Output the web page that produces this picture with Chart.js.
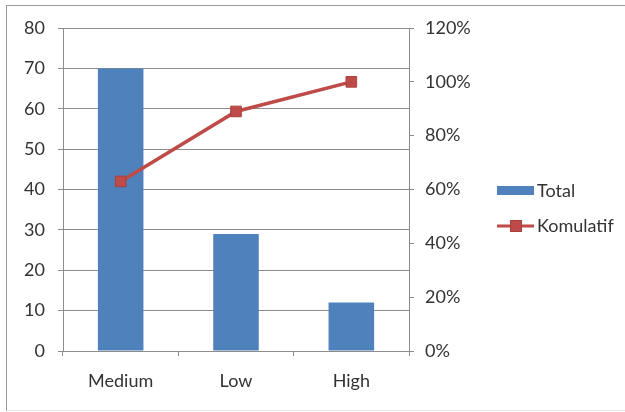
<!DOCTYPE html>
<html>
<head>
<meta charset="utf-8">
<script src="https://cdn.jsdelivr.net/npm/chart.js@4"></script>
<style>
  html, body { margin: 0; padding: 0; background: #fff; }
  #wrap { position: relative; width: 625px; height: 412px; overflow: hidden; }
  #frame { position: absolute; left: 6px; top: 5px; width: 660px; height: 406px;
           border: 1px solid #9a9a9a; border-bottom-color: #e4e4e4; box-sizing: border-box; }
  canvas { position: absolute; left: 0; top: 0; }
</style>
</head>
<body>
<div id="wrap">
  <div id="frame"></div>
  <canvas id="c" width="625" height="412"></canvas>
</div>
<script>
// Pareto data: count per category and cumulative share
const categories = ['Medium', 'Low', 'High'];
const totals = [70, 29, 12];
const cumulative = [0.63, 0.89, 1.00];
const leftTicks = [0, 10, 20, 30, 40, 50, 60, 70, 80];
const rightTicks = [0, 0.2, 0.4, 0.6, 0.8, 1.0, 1.2];

const FONT = 'Lato, Calibri, sans-serif';
const TEXT = '#333333';
const GRID = '#8c8c8c';
const BLUE = '#4F81BD';
const RED = '#BE4B48';
const RED_EDGE = '#A8413E';

// Legend drawn to the right of the plot area
const sideLegend = {
  id: 'sideLegend',
  afterDraw(chart) {
    const ctx = chart.ctx;
    const x0 = 497, x1 = 534;
    const ds = chart.data.datasets;
    ctx.save();
    ctx.font = '18px ' + FONT;
    ctx.textBaseline = 'middle';
    ctx.textAlign = 'left';
    // bar entry
    ctx.fillStyle = ds[0].backgroundColor;
    ctx.fillRect(x0, 186, x1 - x0, 9);
    ctx.fillStyle = TEXT;
    ctx.fillText(ds[0].label, x1 + 3, 191);
    // line entry
    const ly = 226;
    ctx.strokeStyle = ds[1].borderColor;
    ctx.lineWidth = 3;
    ctx.beginPath();
    ctx.moveTo(x0, ly);
    ctx.lineTo(x1, ly);
    ctx.stroke();
    ctx.fillStyle = ds[1].pointBackgroundColor;
    ctx.fillRect(516 - 5.5, ly - 5.5, 11, 11);
    ctx.strokeStyle = ds[1].pointBorderColor;
    ctx.lineWidth = 1;
    ctx.strokeRect(516 - 5.5, ly - 5.5, 11, 11);
    ctx.fillStyle = TEXT;
    ctx.fillText(ds[1].label, x1 + 3, ly);
    ctx.restore();
  }
};

new Chart(document.getElementById('c'), {
  data: {
    labels: categories,
    datasets: [
      {
        type: 'bar',
        label: 'Total',
        data: totals,
        backgroundColor: BLUE,
        borderWidth: 0,
        barPercentage: 0.395,
        categoryPercentage: 1.0,
        yAxisID: 'y',
        order: 2
      },
      {
        type: 'line',
        label: 'Komulatif',
        data: cumulative,
        borderColor: RED,
        borderWidth: 3.5,
        pointStyle: 'rect',
        pointRadius: 7.5,
        pointBackgroundColor: RED,
        pointBorderColor: RED_EDGE,
        pointBorderWidth: 1,
        tension: 0,
        yAxisID: 'y1',
        order: 1
      }
    ]
  },
  options: {
    responsive: false,
    devicePixelRatio: 1,
    animation: false,
    layout: { padding: { top: 28, right: 146, bottom: 0, left: 0 } },
    plugins: { legend: { display: false }, tooltip: { enabled: false } },
    scales: {
      x: {
        position: 'bottom',
        offset: true,
        grid: { offset: true, drawOnChartArea: false, drawTicks: true, tickLength: 5, color: GRID },
        border: { color: GRID },
        ticks: { color: TEXT, font: { family: FONT, size: 18 }, padding: 14 },
        afterFit(s) { s.height = 61; }
      },
      y: {
        position: 'left',
        min: leftTicks[0],
        max: leftTicks[leftTicks.length - 1],
        afterBuildTicks(s) { s.ticks = leftTicks.map(v => ({ value: v })); },
        grid: { color: GRID, tickLength: 5 },
        border: { color: GRID },
        ticks: { color: TEXT, font: { family: FONT, size: 18 }, padding: 13 },
        afterFit(s) { s.width = 63; }
      },
      y1: {
        position: 'right',
        min: rightTicks[0],
        max: rightTicks[rightTicks.length - 1],
        afterBuildTicks(s) { s.ticks = rightTicks.map(v => ({ value: v })); },
        grid: { drawOnChartArea: false, color: GRID, tickLength: 5 },
        border: { color: GRID },
        ticks: {
          color: TEXT, font: { family: FONT, size: 18 }, padding: 11,
          callback: v => Math.round(v * 100) + '%'
        },
        afterFit(s) { s.width = 70; }
      }
    }
  },
  plugins: [sideLegend]
});
</script>
</body>
</html>
